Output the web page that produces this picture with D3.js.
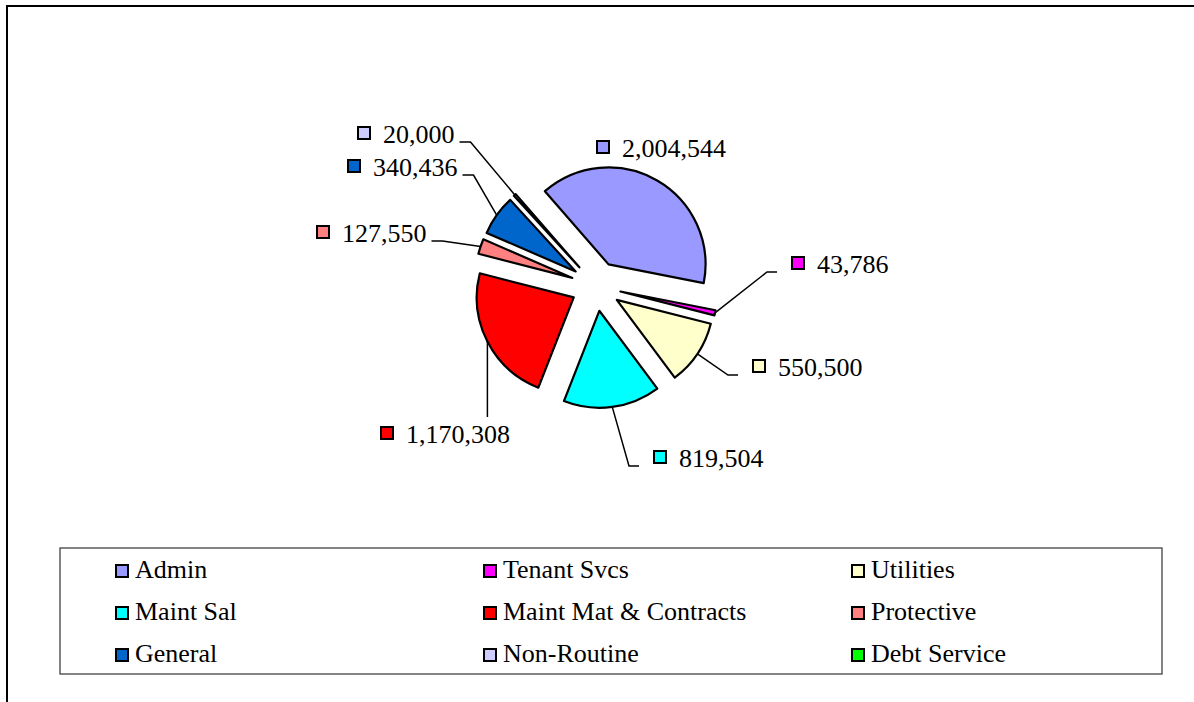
<!DOCTYPE html>
<html>
<head>
<meta charset="utf-8">
<script src="https://cdn.jsdelivr.net/npm/d3@7"></script>
<style>
  body { margin: 0; background: #fff; }
  svg { display: block; }
</style>
</head>
<body>
<div id="chart"></div>
<script>
var categories = ["Admin", "Tenant Svcs", "Utilities", "Maint Sal", "Maint Mat & Contracts",
                  "Protective", "General", "Non-Routine", "Debt Service"];
var values = [2004544, 43786, 550500, 819504, 1170308, 127550, 340436, 20000, 0];
var colors = ["#9999FF", "#FF00FF", "#FFFFCC", "#00FFFF", "#FF0000",
              "#FF8080", "#0066CC", "#CCCCFF", "#00FF00"];

// where each data label sits (key square left edge, text baseline), relative to pie centre
var labelOffsets = [[0, -129], [195, -13], [156, 90], [57, 181], [-216, 157],
                    [-280, -44], [-249, -110], [-239, -143], null];

var width = 1194, height = 702;
var cx = 596, cy = 286;
var radius = 97;
var explode = 25;
var startDeg = -41;
var serif = "'Liberation Serif', 'Times New Roman', 'DejaVu Serif', serif";

var svg = d3.select('#chart').append('svg')
   .attr('width', width)
   .attr('height', height)
   .attr('font-family', serif);

// outer chart frame (runs off the bottom/right of the page)
svg.append('rect')
   .attr('x', 7).attr('y', 6)
   .attr('width', 1200).attr('height', 720)
   .attr('fill', '#fff')
   .attr('stroke', '#000')
   .attr('stroke-width', 2);

var data = categories.map(function(c, i) {
   return { name: c, value: values[i], color: colors[i], label: labelOffsets[i] };
});

var pie = d3.pie()
   .sort(null)
   .value(function(d) { return d.value; })
   .startAngle(startDeg * Math.PI / 180)
   .endAngle((startDeg + 360) * Math.PI / 180);

var arc = d3.arc().innerRadius(0).outerRadius(radius);

var slices = pie(data).filter(function(d) { return d.data.value > 0; });

function mid(d) { return (d.startAngle + d.endAngle) / 2; }
function offset(d, r) {
   var a = mid(d);
   return [Math.sin(a) * r, -Math.cos(a) * r];
}

var g = svg.append('g')
   .attr('transform', 'translate(' + cx + ',' + cy + ')');

g.selectAll('path.slice')
   .data(slices)
   .enter().append('path')
   .attr('class', 'slice')
   .attr('d', arc)
   .attr('transform', function(d) {
      var o = offset(d, explode);
      return 'translate(' + o[0] + ',' + o[1] + ')';
   })
   .attr('fill', function(d) { return d.data.color; })
   .attr('stroke', '#000')
   .attr('stroke-width', 2.2)
   .attr('stroke-linejoin', 'round');

// data labels with legend key + leader lines
var fontSize = 26;
var labels = g.selectAll('g.label')
   .data(slices)
   .enter().append('g')
   .attr('class', 'label')
   .attr('transform', function(d) {
      return 'translate(' + d.data.label[0] + ',' + d.data.label[1] + ')';
   });

labels.append('rect')
   .attr('x', 1).attr('y', -16)
   .attr('width', 12).attr('height', 12)
   .attr('fill', function(d) { return d.data.color; })
   .attr('stroke', '#000')
   .attr('stroke-width', 2);

labels.append('text')
   .attr('x', 26)
   .attr('y', 0)
   .attr('font-family', serif)
   .attr('font-size', fontSize)
   .attr('fill', '#000')
   .text(function(d) { return d3.format(',')(d.data.value); });

var leader = d3.line();
labels.each(function(d) {
   var lx = d.data.label[0], ly = d.data.label[1];
   var tw = d3.select(this).select('text').node().getComputedTextLength();
   var boxLeft = lx - 14, boxRight = lx + 26 + tw + 5;
   var boxTop = ly - 26, boxBottom = ly + 6;
   var p = offset(d, radius + explode);
   var pts;
   if (p[0] >= boxLeft && p[0] <= boxRight) {
      var edge = p[1] < boxTop ? boxTop : boxBottom;
      if (Math.abs(edge - p[1]) < 20) return;
      pts = [p, [p[0], edge]];
   } else if (p[0] < boxLeft) {
      pts = [p, [boxLeft - 10, ly - 1], [boxLeft, ly - 1]];
   } else {
      pts = [p, [boxRight + 11, ly - 1], [boxRight, ly - 1]];
   }
   g.append('path')
      .attr('d', leader(pts))
      .attr('fill', 'none')
      .attr('stroke', '#000')
      .attr('stroke-width', 1.5);
});

// legend
var legend = svg.append('g');
legend.append('rect')
   .attr('x', 60).attr('y', 548)
   .attr('width', 1102).attr('height', 126)
   .attr('fill', '#fff')
   .attr('stroke', '#333')
   .attr('stroke-width', 1.2);

var colX = d3.scaleBand().domain([0, 1, 2]).range([115, 1219]);
var rowY = d3.scalePoint().domain([0, 1, 2]).range([578, 662]);

var items = legend.selectAll('g.item')
   .data(data)
   .enter().append('g')
   .attr('class', 'item')
   .attr('transform', function(d, i) {
      return 'translate(' + colX(i % 3) + ',' + rowY(Math.floor(i / 3)) + ')';
   });

items.append('rect')
   .attr('x', 1).attr('y', -13)
   .attr('width', 12).attr('height', 12)
   .attr('fill', function(d) { return d.color; })
   .attr('stroke', '#000')
   .attr('stroke-width', 2);

items.append('text')
   .attr('x', 20)
   .attr('y', 0)
   .attr('font-family', serif)
   .attr('font-size', fontSize)
   .attr('fill', '#000')
   .text(function(d) { return d.name; });
</script>
</body>
</html>
